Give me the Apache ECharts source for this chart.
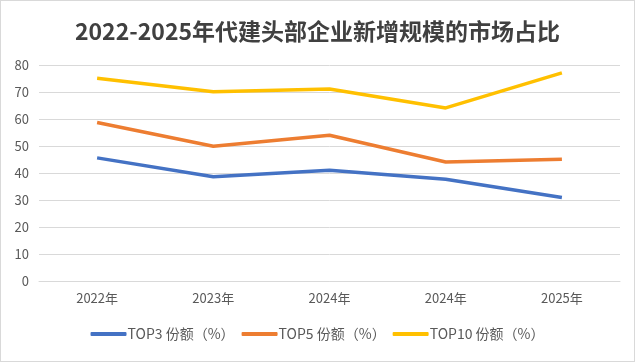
<!DOCTYPE html>
<html><head><meta charset="utf-8">
<script src="https://cdn.jsdelivr.net/npm/echarts@6/dist/echarts.min.js"></script>
<style>
html,body{margin:0;padding:0;background:#fff;}
#c{width:635px;height:362px;box-sizing:border-box;border:1px solid #d9d9d9;}
</style></head>
<body><div id="c"></div>
<script>
const categories = ['2022年','2023年','2024年','2024年','2025年'];
const top3 = [45.6, 38.6, 41.0, 37.7, 30.9];
const top5 = [58.7, 49.9, 54.0, 44.1, 45.1];
const top10 = [75.1, 70.1, 71.1, 64.1, 77.1];
const seriesNames = ['TOP3 份额（%）','TOP5 份额（%）','TOP10 份额（%）'];
const colors = ['#4472C4','#ED7D31','#FFC000'];

const chart = echarts.init(document.getElementById('c'), null, {renderer:'canvas'});
const font = '"Noto Sans CJK SC", "Noto Sans", sans-serif';
chart.setOption({
  animation:false,
  title:{text:'2022-2025年代建头部企业新增规模的市场占比',left:'center',top:14,
    textStyle:{fontFamily:font,fontSize:23,fontWeight:'bold',color:'#404040'}},
  color:colors,
  legend:{bottom:15,left:'center',icon:'roundRect',itemWidth:36,itemHeight:4,itemGap:7,
    textStyle:{fontFamily:font,fontSize:14,color:'#595959',padding:[0,0,0,-4]},
    data:seriesNames},
  grid:{left:38,right:14,top:64,bottom:80,containLabel:false},
  xAxis:{type:'category',data:categories,boundaryGap:true,
    axisLine:{lineStyle:{color:'#d9d9d9'}},axisTick:{show:false},
    axisLabel:{fontFamily:font,fontSize:13,color:'#595959',margin:11}},
  yAxis:{type:'value',min:0,max:80,interval:10,
    axisLine:{show:false},axisTick:{show:false},
    splitLine:{lineStyle:{color:'#d9d9d9'}},
    axisLabel:{fontFamily:font,fontSize:13,color:'#595959',margin:10}},
  series:[
    {name:seriesNames[0],type:'line',data:top3,symbol:'none',lineStyle:{width:3.5,color:colors[0]},itemStyle:{color:colors[0]}},
    {name:seriesNames[1],type:'line',data:top5,symbol:'none',lineStyle:{width:3.5,color:colors[1]},itemStyle:{color:colors[1]}},
    {name:seriesNames[2],type:'line',data:top10,symbol:'none',lineStyle:{width:3.5,color:colors[2]},itemStyle:{color:colors[2]}}
  ]
});
</script></body></html>
